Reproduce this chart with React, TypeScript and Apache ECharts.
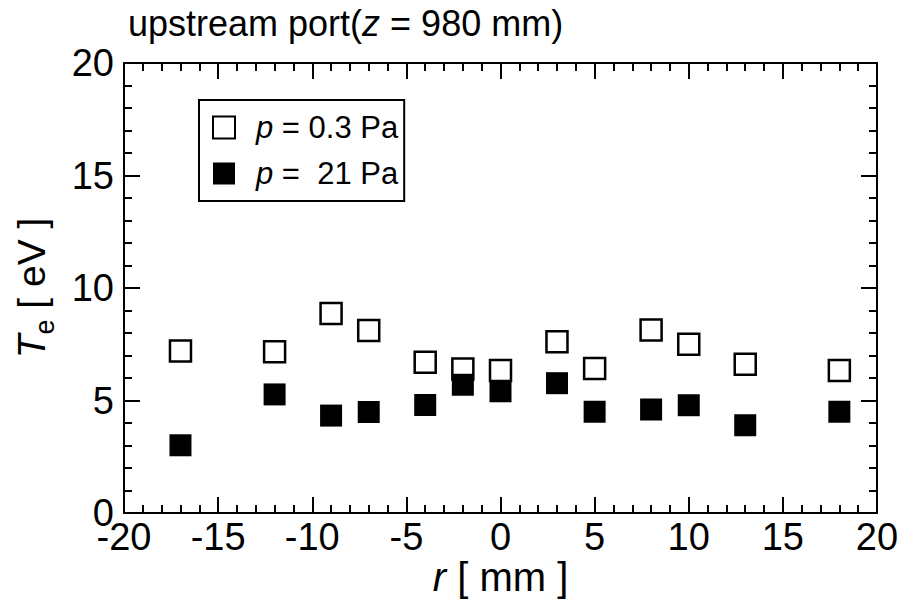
import React, { useEffect, useRef } from "react";
import * as echarts from "echarts";

const rValues = [-17, -12, -9, -7, -4, -2, 0, 3, 5, 8, 10, 13, 18];
const te03Pa = [7.2, 7.17, 8.87, 8.11, 6.7, 6.4, 6.33, 7.61, 6.42, 8.13, 7.5, 6.61, 6.33];
const te21Pa = [3.01, 5.27, 4.33, 4.49, 4.8, 5.7, 5.41, 5.77, 4.5, 4.6, 4.79, 3.9, 4.5];
const xTicks = { min: -20, max: 20, step: 5 };
const yTicks = { min: 0, max: 20, step: 5 };

const FONT = "'Liberation Sans', Arial, Helvetica, sans-serif";

export default function App() {
  const ref = useRef<HTMLDivElement>(null);
  useEffect(() => {
    if (!ref.current) return;
    const chart = echarts.init(ref.current, null, { renderer: "svg" });
    const axisCommon = {
      type: "value",
      axisLine: { show: true, onZero: false, lineStyle: { color: "#000", width: 2 } },
      axisTick: { show: true, inside: true, length: 16, lineStyle: { color: "#000", width: 2 } },
      minorTick: { show: true, splitNumber: 5, length: 8, lineStyle: { color: "#000", width: 2 } },
      splitLine: { show: false },
    };
    const labelStyle = { color: "#000", fontSize: 38, fontFamily: FONT };
    chart.setOption({
      animation: false,
      backgroundColor: "#fff",
      textStyle: { fontFamily: FONT, color: "#000" },
      title: {
        text: "upstream port({i|z} = 980 mm)",
        left: 123,
        top: 0,
        textStyle: {
          fontSize: 36,
          fontWeight: "normal",
          color: "#000",
          fontFamily: FONT,
          rich: { i: { fontSize: 36, fontStyle: "italic", fontFamily: FONT, color: "#000" } },
        },
      },
      grid: { left: 124, right: 25, top: 63, bottom: 86, containLabel: false, outerBoundsMode: "none" },
      legend: {
        orient: "vertical",
        left: 199,
        top: 100,
        padding: [12, 6, 12, 13],
        itemGap: 15,
        itemWidth: 22,
        itemHeight: 22,
        borderColor: "#000",
        borderWidth: 2,
        backgroundColor: "#fff",
        data: [
          { name: "p = 0.3 Pa", icon: "rect" },
          { name: "p =  21 Pa", icon: "rect" },
        ],
        formatter: (name: string) => "{i|p}{n|" + name.slice(1) + "}",
        textStyle: {
          color: "#000",
          fontFamily: FONT,
          fontSize: 31,
          lineHeight: 22,
          rich: {
            i: { fontStyle: "italic", fontSize: 31, lineHeight: 22, padding: [0, 0, 0, 16], fontFamily: FONT, color: "#000" },
            n: { fontSize: 31, lineHeight: 22, fontFamily: FONT, color: "#000", whiteSpace: "pre" },
          },
        },
      },
      xAxis: [
        {
          ...axisCommon,
          min: xTicks.min,
          max: xTicks.max,
          interval: xTicks.step,
          position: "bottom",
          axisLabel: { ...labelStyle, margin: 5 },
          name: "{i|r} [ mm ]",
          nameLocation: "middle",
          nameGap: 44,
          nameMoveOverlap: false,
          nameTextStyle: {
            fontSize: 40,
            lineHeight: 40,
            color: "#000",
            fontFamily: FONT,
            rich: { i: { fontStyle: "italic", fontSize: 40, lineHeight: 40, fontFamily: FONT, color: "#000" } },
          },
        },
        {
          ...axisCommon,
          min: xTicks.min,
          max: xTicks.max,
          interval: xTicks.step,
          position: "top",
          axisLabel: { show: false },
        },
      ],
      yAxis: [
        {
          ...axisCommon,
          min: yTicks.min,
          max: yTicks.max,
          interval: yTicks.step,
          position: "left",
          axisLabel: { ...labelStyle, margin: 10 },
          name: "{i|T}{s|e} [ eV ]",
          nameLocation: "middle",
          nameRotate: 90,
          nameGap: 66,
          nameMoveOverlap: false,
          nameTextStyle: {
            fontSize: 39,
            color: "#000",
            fontFamily: FONT,
            rich: {
              i: { fontStyle: "italic", fontSize: 39, lineHeight: 46, fontFamily: FONT, color: "#000" },
              s: { fontSize: 27, lineHeight: 54, verticalAlign: "bottom", fontFamily: FONT, color: "#000" },
            },
          },
        },
        {
          ...axisCommon,
          min: yTicks.min,
          max: yTicks.max,
          interval: yTicks.step,
          position: "right",
          axisLabel: { show: false },
        },
      ],
      series: [
        {
          name: "p = 0.3 Pa",
          type: "scatter",
          xAxisIndex: 0,
          yAxisIndex: 0,
          symbol: "rect",
          symbolSize: 21,
          itemStyle: { color: "#fff", borderColor: "#000", borderWidth: 2.5, opacity: 1 },
          data: rValues.map((r, i) => [r, te03Pa[i]]),
        },
        {
          name: "p =  21 Pa",
          type: "scatter",
          xAxisIndex: 0,
          yAxisIndex: 0,
          symbol: "rect",
          symbolSize: 22,
          itemStyle: { color: "#000", opacity: 1 },
          data: rValues.map((r, i) => [r, te21Pa[i]]),
        },
      ],
    });
    return () => chart.dispose();
  }, []);
  return <div ref={ref} style={{ width: 902, height: 599, position: "absolute", left: 0, top: 0 }} />;
}
